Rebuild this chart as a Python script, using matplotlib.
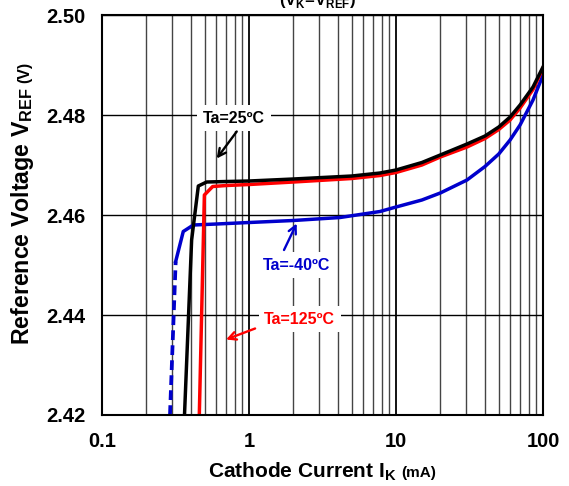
import matplotlib
matplotlib.use("Agg")
import matplotlib.pyplot as plt
from matplotlib.ticker import FixedLocator, LogLocator, NullFormatter

plt.rcParams["font.family"] = "Liberation Sans"
plt.rcParams["font.weight"] = "bold"
plt.rcParams["mathtext.fontset"] = "custom"
plt.rcParams["mathtext.rm"] = "Liberation Sans:bold"
plt.rcParams["mathtext.bf"] = "Liberation Sans:bold"

# VREF vs cathode current, three ambient temperatures
ik_25 = [0.364, 0.407, 0.452, 0.515, 0.7, 1.0, 2.0, 5.0, 7.78, 10, 15, 20, 30.4, 40.3, 50, 59.7, 69.8, 85.5, 100]
vref_25 = [2.420, 2.455, 2.4658, 2.4666, 2.4667, 2.4668, 2.4672, 2.4678, 2.4684, 2.4690, 2.4705, 2.4720,
           2.4742, 2.4758, 2.4776, 2.4796, 2.4820, 2.4856, 2.4896]

ik_125 = [0.459, 0.497, 0.566, 0.7, 1.0, 2.0, 5.0, 7.78, 10, 15, 20, 30.4, 40.3, 50, 59.7, 69.8, 85.5, 100]
vref_125 = [2.420, 2.464, 2.4657, 2.4659, 2.4661, 2.4666, 2.4673, 2.4679, 2.4685, 2.4700, 2.4716, 2.4736,
            2.4753, 2.4771, 2.4790, 2.4814, 2.4851, 2.4894]

ik_m40 = [0.317, 0.357, 0.418, 0.6, 1.0, 2.0, 4.16, 7.78, 10, 15, 20, 30.4, 40.3, 50, 59.7, 69.8, 85.5, 100]
vref_m40 = [2.4507, 2.4567, 2.4580, 2.4582, 2.4585, 2.4589, 2.4595, 2.4607, 2.4616, 2.4630, 2.4644, 2.4670,
            2.4697, 2.4722, 2.4750, 2.4780, 2.4830, 2.4880]
# below the knee the -40C trace is only extrapolated
ik_m40_low = [0.290, 0.317]
vref_m40_low = [2.420, 2.4507]

y_ticks = [2.42, 2.44, 2.46, 2.48, 2.50]
x_ticks = [0.1, 1, 10, 100]
x_tick_labels = ["0.1", "1", "10", "100"]

BLUE = "#0000CC"
RED = "#FF0000"

fig = plt.figure(figsize=(5.69, 4.86), dpi=100)
ax = fig.add_axes([0.1793, 0.1461, 0.775, 0.823])

ax.set_xscale("log")
ax.set_xlim(0.1, 100)
ax.set_ylim(2.42, 2.50)

ax.xaxis.set_major_locator(FixedLocator(x_ticks))
ax.xaxis.set_minor_locator(LogLocator(base=10, subs=range(2, 10)))
ax.xaxis.set_minor_formatter(NullFormatter())
ax.set_xticklabels(x_tick_labels)
ax.set_yticks(y_ticks)
ax.set_yticklabels([f"{v:.2f}" for v in y_ticks])
ax.tick_params(which="both", length=0, labelsize=14.5, pad=12)

ax.grid(which="major", axis="x", color="black", lw=1.3)
ax.grid(which="minor", axis="x", color="#444444", lw=1.0)
ax.grid(which="major", axis="y", color="black", lw=1.0)
ax.set_axisbelow(True)
for sp in ax.spines.values():
    sp.set_linewidth(1.5)

ax.plot(ik_m40_low, vref_m40_low, color=BLUE, lw=2.7, ls=(0, (2.6, 1.4)), solid_capstyle="butt")
ax.plot(ik_m40, vref_m40, color=BLUE, lw=2.5)
ax.plot(ik_125, vref_125, color=RED, lw=2.5)
ax.plot(ik_25, vref_25, color="black", lw=2.5)

box = dict(boxstyle="square,pad=0.35", fc="white", ec="none")
arrow = dict(arrowstyle="->,head_length=0.55,head_width=0.28", lw=1.7, shrinkA=0, shrinkB=0)

ax.text(0.791, 2.4794, "Ta=25\u00baC", color="black", fontsize=11.5, ha="center", va="center", bbox=box)
ax.annotate("", xy=(0.603, 2.4713), xytext=(0.825, 2.4767), arrowprops=dict(arrow, color="black"))

ax.text(2.12, 2.4500, "Ta=-40\u00baC", color=BLUE, fontsize=11.5, ha="center", va="center", bbox=box)
ax.annotate("", xy=(2.11, 2.4583), xytext=(1.73, 2.4530), arrowprops=dict(arrow, color=BLUE))

ax.text(2.21, 2.4392, "Ta=125\u00baC", color=RED, fontsize=11.5, ha="center", va="center", bbox=box)
ax.annotate("", xy=(0.698, 2.4351), xytext=(1.10, 2.4373), arrowprops=dict(arrow, color=RED))

# axis labels, with the unit set smaller right after the main text
xl = fig.text(397 / 569, 9 / 486, r"Cathode Current I$_{\mathbf{K}}$", fontsize=15, ha="right", va="baseline")
fig.text(401 / 569, 9 / 486, "(mA)", fontsize=11, ha="left", va="baseline")

yl = fig.text(29 / 569, (486 - 345) / 486, r"Reference Voltage V$_{\mathbf{REF}}$", fontsize=16.7, rotation=90,
              rotation_mode="anchor", ha="left", va="baseline")
ax.annotate("(V)", xy=(29 / 569, 1.0), xycoords=("figure fraction", yl), xytext=(0, 3),
            textcoords="offset points", fontsize=11.5, rotation=90, rotation_mode="anchor",
            ha="left", va="baseline", annotation_clip=False)

fig.text(318 / 569, (486 - 5) / 486, r"(V$_{\mathbf{K}}$=V$_{\mathbf{REF}}$)", fontsize=12,
         ha="center", va="baseline")

fig.savefig("out.png", dpi=100)
